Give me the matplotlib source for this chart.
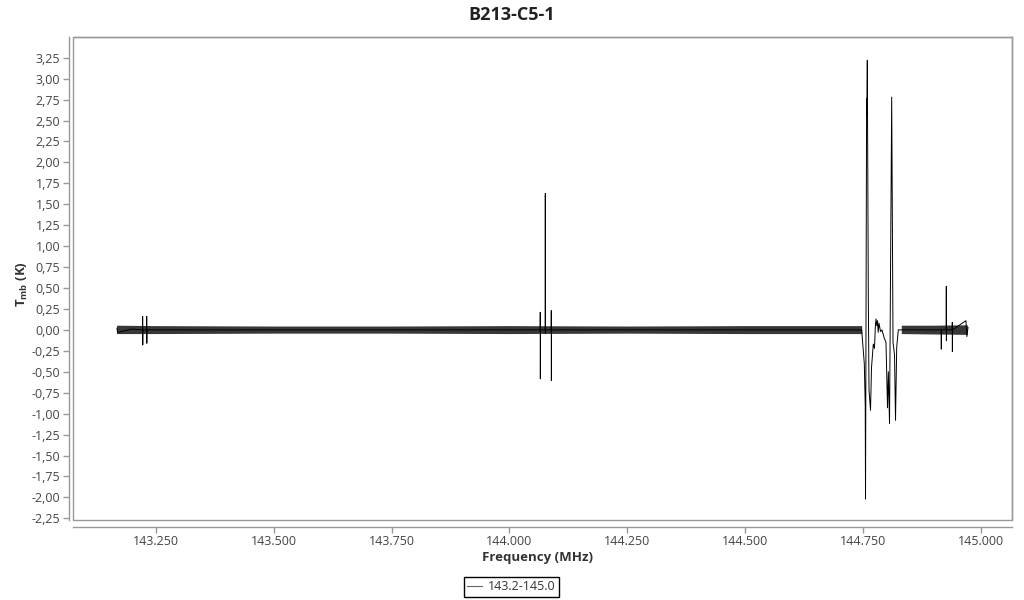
import numpy as np
import matplotlib
matplotlib.use('Agg')
import matplotlib.pyplot as plt
from matplotlib.patches import Rectangle
from matplotlib.lines import Line2D
from matplotlib.ticker import FuncFormatter, FixedLocator

plt.rcParams['font.family'] = ['Open Sans', 'DejaVu Sans']
plt.rcParams['mathtext.fontset'] = 'custom'
plt.rcParams['mathtext.rm'] = 'Open Sans'
plt.rcParams['mathtext.bf'] = 'Open Sans:bold'

title = 'B213-C5-1'
series_label = '143.2-145.0'
x_label = 'Frequency (MHz)'
y_label = r'$\mathbf{T_{mb}}$ (K)'

x_ticks = [143.25, 143.50, 143.75, 144.00, 144.25, 144.50, 144.75, 145.00]
y_ticks = [-2.25, -2.00, -1.75, -1.50, -1.25, -1.00, -0.75, -0.50, -0.25, 0.00,
           0.25, 0.50, 0.75, 1.00, 1.25, 1.50, 1.75, 2.00, 2.25, 2.50, 2.75,
           3.00, 3.25]

# spectral line features (MHz, K)
freq = [143.1679, 143.1690, 143.2000,
        143.2221, 143.2223, 143.2225, 143.2227,
        143.2307, 143.2309, 143.2311, 143.2313,
        143.5000, 143.8000,
        144.0652, 144.0654, 144.0656, 144.0658,
        144.0759, 144.0761, 144.0763, 144.0765,
        144.0886, 144.0888, 144.0890, 144.0892,
        144.4000, 144.7470,
        144.7487, 144.7525, 144.7545, 144.7551, 144.7574, 144.7578, 144.7589,
        144.7610, 144.7625, 144.7657, 144.7678, 144.7716, 144.7741, 144.7760,
        144.7773, 144.7790, 144.7805, 144.7820, 144.7837, 144.7869, 144.7900,
        144.7943, 144.7985, 144.8017, 144.8035, 144.8060, 144.8106, 144.8134,
        144.8166, 144.8187, 144.8212, 144.8246, 144.8318,
        144.9000,
        144.9156, 144.9158, 144.9160,
        144.9262, 144.9264, 144.9266, 144.9268,
        144.9389, 144.9391, 144.9393, 144.9395,
        144.9680, 144.9700, 144.9724]
tmb = [0.02, -0.03, 0.01,
       0.00, 0.16, -0.18, 0.00,
       0.00, 0.16, -0.16, 0.00,
       0.00, 0.00,
       0.00, 0.21, -0.585, 0.00,
       0.00, 1.63, -0.04, 0.00,
       0.00, 0.23, -0.605, 0.00,
       0.00, 0.00,
       -0.13, -0.40, -0.90, -2.02, 2.76, 2.56, 3.22,
       0.41, -0.72, -0.96, -0.45, -0.17, -0.22, 0.05,
       0.13, 0.05, 0.11, -0.03, 0.08, -0.02, 0.00,
       -0.09, -0.15, -0.93, -0.50, -1.12, 2.78, -0.15,
       -0.30, -1.08, -0.21, 0.00, 0.00,
       0.00,
       0.00, -0.23, 0.00,
       0.00, 0.52, -0.13, 0.00,
       0.00, 0.09, -0.26, 0.00,
       0.11, -0.08, 0.03]

# baseline noise envelope (MHz, K)
band_freq = [143.168, 143.25, 143.50, 143.75, 144.00, 144.25, 144.50, 144.748,
             np.nan, 144.832, 144.90, 144.972]
band_hi = [0.05, 0.045, 0.04, 0.04, 0.045, 0.04, 0.045, 0.045,
           np.nan, 0.05, 0.05, 0.055]
band_lo = [-0.05, -0.05, -0.045, -0.045, -0.05, -0.045, -0.05, -0.05,
           np.nan, -0.05, -0.055, -0.06]

fig = plt.figure(figsize=(10.24, 6), dpi=100)
ax = fig.add_axes([73/1024, 1-520/600, (1012-73)/1024, (520-37)/600])

ax.fill_between(band_freq, band_lo, band_hi, color='#383838', lw=0, zorder=2)
line, = ax.plot(freq, tmb, color='black', lw=0.7, zorder=3)

ax.set_xlim(143.0746, 145.0657)
ax.set_ylim(-2.27, 3.497)

ax.xaxis.set_major_locator(FixedLocator(x_ticks))
ax.yaxis.set_major_locator(FixedLocator(y_ticks))
ax.xaxis.set_major_formatter(FuncFormatter(lambda v, p: f'{v:.3f}'))
ax.yaxis.set_major_formatter(FuncFormatter(lambda v, p: f'{v:.2f}'.replace('.', ',')))

edge = '#999999'
for s in ['top', 'right']:
    ax.spines[s].set_color(edge)
    ax.spines[s].set_linewidth(1)
ax.spines['left'].set_position(('outward', 3))
ax.spines['bottom'].set_position(('outward', 5))
for s in ['left', 'bottom']:
    ax.spines[s].set_color(edge)
    ax.spines[s].set_linewidth(1)
ax.add_patch(Rectangle((0, 0), 1, 1, transform=ax.transAxes, fill=False,
                       edgecolor=edge, lw=1, clip_on=False, zorder=5))

ax.tick_params(axis='both', length=4, width=1, color=edge, labelsize=9,
               labelcolor='#444444', pad=2)

fig.text(0.5, 1-15/600, title, ha='center', va='center', fontsize=13,
         fontweight='bold', color='#222222')
fig.text(537.5/1024, 1-557/600, x_label, ha='center', va='center',
         fontsize=9.5, fontweight='bold', color='#333333')
fig.text(22/1024, 1-284/600, y_label, ha='center', va='center', rotation=90,
         fontsize=9.5, fontweight='bold', color='#333333')

proxy = Line2D([], [], color='#666666', lw=0.8)
leg = fig.legend(handles=[proxy], labels=[series_label], loc='center',
                 bbox_to_anchor=(511.5/1024, 1-587/600), frameon=True,
                 fancybox=False, edgecolor='black', framealpha=1, fontsize=9,
                 handlelength=1.2, handletextpad=0.5, borderpad=0.25,
                 borderaxespad=0)
leg.get_frame().set_linewidth(1)
for t in leg.get_texts():
    t.set_color('#333333')

fig.savefig('out.png', dpi=100)
